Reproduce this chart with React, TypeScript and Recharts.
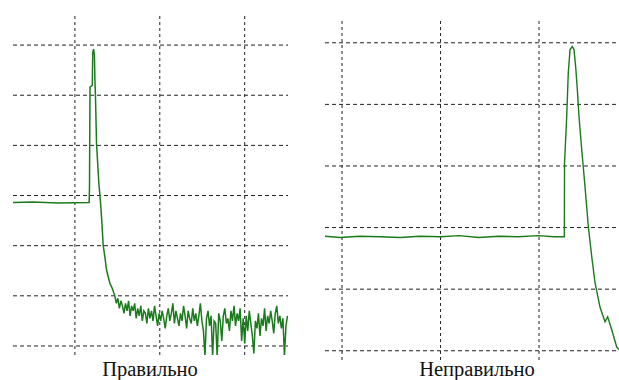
import React from "react";
import { LineChart, Line, XAxis, YAxis, ReferenceLine } from "recharts";

// ---- Left trace ("Правильно") ----
const leftPulseT = [2.71, 5.0, 8.0, 11.68, 11.72, 11.78, 12.05, 12.1, 12.2, 12.3, 12.36, 12.42, 12.55, 12.7, 12.82, 12.95, 13.02, 13.18, 13.33, 13.55, 13.73, 14.12, 14.4];
const leftPulseV = [2.86, 2.87, 2.85, 2.86, 3.17, 5.16, 5.2, 5.85, 5.92, 5.8, 5.3, 5.0, 4.04, 3.6, 3.25, 3.0, 2.85, 2.47, 2.01, 1.75, 1.51, 1.25, 1.15];
const leftNoiseStart = 14.7;
const leftNoiseStep = 0.18;
const leftNoiseV = [
  1.0, 0.85, 0.95, 0.75, 0.9, 0.8, 0.65, 0.85, 0.7, 0.9,
  0.6, 0.8, 0.7, 0.85, 0.55, 0.75, 0.6, 0.8, 0.5, 0.7,
  0.65, 0.45, 0.75, 0.55, 0.7, 0.5, 0.8, 0.6, 0.4, 0.65,
  0.5, 0.7, 0.55, 0.35, 0.6, 0.75, 0.5, 0.65, 0.85, 0.45,
  0.7, 0.55, 0.4, 0.65, 0.5, 0.8, 0.6, 0.35, 0.7, 0.55,
  0.45, 0.75, 0.5, 0.65, 0.4, 0.6, 0.85, 0.5, 0.3, -0.2,
  0.55, 0.7, 0.4, 0.6, -0.2, 0.5, 0.45, -0.2, 0.65, 0.5,
  0.1, 0.6, 0.75, 0.45, 0.55, 0.3, 0.7, 0.5, 0.8, 0.4,
  0.65, 0.5, 0.75, 0.1, 0.55, 0.05, 0.6, 0.3, 0.7, 0.45,
  0.2, -0.15, 0.5, 0.35, 0.65, 0.2, 0.55, 0.4, 0.75, 0.3,
  0.6, 0.45, 0.7, 0.5, 0.25, 0.65, 0.8, 0.45, 0.6, 0.35,
  0.55, -0.2, 0.4, 0.6,
];
const leftXTicks = [10, 20, 30];
const leftYTicks = [0, 1, 2, 3, 4, 5, 6];

// ---- Right trace ("Неправильно") ----
const rightT = [8.27, 9.8, 11.8, 13.9, 15.9, 17.9, 20.0, 21.9, 23.9, 25.9, 27.9, 29.9, 31.5, 32.57, 32.59, 32.81, 32.97, 33.15, 33.38, 33.55, 33.72, 33.89, 34.06, 34.34, 34.67, 35.01, 35.35, 35.69, 36.19, 36.7, 36.97, 37.38, 37.89, 38.12];
const rightV = [1.86, 1.84, 1.86, 1.85, 1.84, 1.86, 1.85, 1.87, 1.84, 1.86, 1.85, 1.87, 1.85, 1.85, 3.05, 3.8, 4.51, 4.89, 4.94, 4.89, 4.61, 4.24, 3.8, 3.26, 2.66, 2.01, 1.53, 1.1, 0.71, 0.47, 0.55, 0.34, 0.06, 0.02];
const rightXTicks = [10, 20, 30];
const rightYTicks = [0, 1, 2, 3, 4, 5];

const leftData = [
  ...leftPulseT.map((t, i) => ({ t, v: leftPulseV[i] })),
  ...leftNoiseV.map((v, i) => ({ t: leftNoiseStart + i * leftNoiseStep, v })),
];
const rightData = rightT.map((t, i) => ({ t, v: rightV[i] }));

const TRACE = "#1a7a1c";
const GRID = "#222";

const labelStyle: React.CSSProperties = {
  position: "absolute",
  fontFamily: "Liberation Serif, Times New Roman, DejaVu Serif, serif",
  fontSize: 20.5,
  lineHeight: "20px",
  color: "#111",
  whiteSpace: "nowrap",
  transform: "translateX(-50%)",
};

function gridLines(xTicks: number[], yTicks: number[]) {
  return [
    ...yTicks.map((y) => (
      <ReferenceLine key={"h" + y} y={y} stroke={GRID} strokeDasharray="4 3" strokeWidth={1} />
    )),
    ...xTicks.map((x) => (
      <ReferenceLine key={"v" + x} x={x} stroke={GRID} strokeDasharray="3 3" strokeWidth={1} />
    )),
  ];
}

export default function App() {
  return (
    <div style={{ position: "absolute", left: 0, top: 0, width: 619, height: 380, background: "#fff", overflow: "hidden" }}>
      <div style={{ position: "absolute", left: 0, top: 0 }}>
        <LineChart width={310} height={380} data={leftData} margin={{ top: 15, left: 13, right: 22, bottom: 25 }}>
          <XAxis hide type="number" dataKey="t" domain={[2.71, 35.1]} ticks={leftXTicks} allowDataOverflow />
          <YAxis hide type="number" domain={[-0.18, 6.6]} ticks={leftYTicks} allowDataOverflow />
          {gridLines(leftXTicks, leftYTicks)}
          <Line type="linear" dataKey="v" stroke={TRACE} strokeWidth={1.5} dot={false} isAnimationActive={false} />
        </LineChart>
      </div>
      <div style={{ position: "absolute", left: 310, top: 0 }}>
        <LineChart width={309} height={380} data={rightData} margin={{ top: 20, left: 15, right: 0, bottom: 20 }}>
          <XAxis hide type="number" dataKey="t" domain={[8.27, 38.12]} ticks={rightXTicks} allowDataOverflow />
          <YAxis hide type="number" domain={[-0.15, 5.37]} ticks={rightYTicks} allowDataOverflow />
          {gridLines(rightXTicks, rightYTicks)}
          <Line type="linear" dataKey="v" stroke={TRACE} strokeWidth={1.4} dot={false} isAnimationActive={false} />
        </LineChart>
      </div>
      <div style={{ ...labelStyle, left: 150, top: 359 }}>Правильно</div>
      <div style={{ ...labelStyle, left: 477, top: 359 }}>Неправильно</div>
    </div>
  );
}
